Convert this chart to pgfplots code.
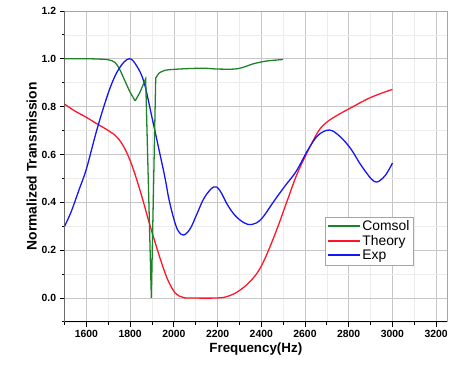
\documentclass[border=0pt]{standalone}
\usepackage{pgfplots}
\pgfplotsset{compat=1.18}
\usepackage{fontspec}
\setmainfont{Liberation Sans}
\definecolor{cgreen}{RGB}{30,130,40}
\definecolor{cred}{RGB}{255,20,40}
\definecolor{cblue}{RGB}{20,20,245}
\begin{document}
\begin{tikzpicture}
\begin{axis}[
  scale only axis,
  width=385bp, height=313bp,
  xmin=1500, xmax=3250, ymin=-0.1, ymax=1.2,
  xtick={1600,1800,...,3200},
  minor xtick={1500,1700,...,3100},
  ytick={0,0.2,...,1.2},
  minor ytick={-0.1,0.1,0.3,0.5,0.7,0.9,1.1},
  scaled x ticks=false,
  xticklabel style={/pgf/number format/.cd,fixed,1000 sep={},assume math mode=true},
  yticklabel style={/pgf/number format/.cd,fixed,fixed zerofill,precision=1,assume math mode=true},
  tick label style={font=\fontsize{10.5}{12}\selectfont\bfseries},
  tick align=outside,
  major tick length=5bp, minor tick length=3bp,
  tick style={black, line width=0.8pt},
  xtick pos=bottom, ytick pos=left,
  grid=both,
  major grid style={gray!45, line width=0.6pt},
  minor grid style={gray!15, line width=0.5pt},
  axis line style={gray!70, line width=0.8pt},
  xlabel={Frequency(Hz)}, ylabel={Normalized Transmission},
  xlabel style={font=\fontsize{13.5}{15}\selectfont\bfseries, yshift=2bp},
  ylabel style={font=\fontsize{14}{16}\selectfont\bfseries, yshift=-2bp},
  legend cell align=left,
  legend style={at={(axis cs:2690,0.34)}, anchor=north west, draw=gray!70,
    font=\fontsize{14}{16}\selectfont, row sep=-1bp, inner sep=2bp},
  legend image code/.code={\draw[#1, line width=1.8pt] (0bp,0.25bp) -- (32bp,0.25bp);},
  every axis plot/.append style={line width=1.3pt},
]
\addplot[cgreen, smooth, tension=0.5] coordinates {
(1500,1.0)(1600,1.0)(1650,0.999)(1700,0.996)(1730,0.985)(1750,0.96)(1765,0.93)(1780,0.90)(1800,0.86)(1823,0.824)};
\addlegendentry{Comsol}
\addplot[cred, smooth, tension=0.6] coordinates {
(1500,0.81)(1550,0.78)(1600,0.755)(1650,0.727)(1700,0.70)(1740,0.672)(1775,0.625)(1810,0.55)(1850,0.435)(1886,0.318)(1915,0.23)(1947,0.138)(1975,0.07)(2007,0.02)(2040,0.003)(2070,0.0)(2200,0.0)(2250,0.008)(2295,0.028)(2350,0.07)(2400,0.133)(2460,0.26)(2520,0.41)(2560,0.51)(2600,0.59)(2660,0.695)(2700,0.735)(2750,0.765)(2810,0.795)(2900,0.838)(3000,0.872)};
\addlegendentry{Theory}
\addplot[cblue, smooth, tension=0.6] coordinates {
(1500,0.30)(1530,0.36)(1568,0.457)(1600,0.54)(1650,0.71)(1705,0.87)(1750,0.96)(1795,1.0)(1830,0.97)(1864,0.90)(1901,0.75)(1932,0.62)(1960,0.50)(1977,0.415)(2000,0.33)(2020,0.28)(2045,0.263)(2075,0.29)(2105,0.35)(2140,0.42)(2182,0.464)(2210,0.45)(2245,0.39)(2280,0.345)(2320,0.315)(2356,0.307)(2400,0.33)(2462,0.41)(2510,0.47)(2560,0.53)(2614,0.62)(2660,0.68)(2712,0.702)(2760,0.675)(2810,0.623)(2860,0.55)(2917,0.487)(2955,0.50)(2980,0.53)(3000,0.564)};
\addlegendentry{Exp}
\addplot[cgreen, sharp plot, forget plot] coordinates {
(1823,0.824)(1845,0.86)(1871,0.916)(1897,0.0)(1917,0.92)(1932,0.94)};
\addplot[cgreen, smooth, tension=0.5, forget plot] coordinates {
(1932,0.94)(1960,0.952)(2023,0.957)(2100,0.96)(2150,0.96)(2200,0.957)(2280,0.957)(2320,0.965)(2360,0.978)(2420,0.99)(2500,0.997)};
\draw[black, line width=1pt] (rel axis cs:0,1) -- (rel axis cs:0,0) -- (rel axis cs:1,0);
\end{axis}
\path ([xshift=-65bp,yshift=-49bp]current axis.south west) rectangle ([xshift=1bp,yshift=11bp]current axis.north east);
\end{tikzpicture}
\end{document}
